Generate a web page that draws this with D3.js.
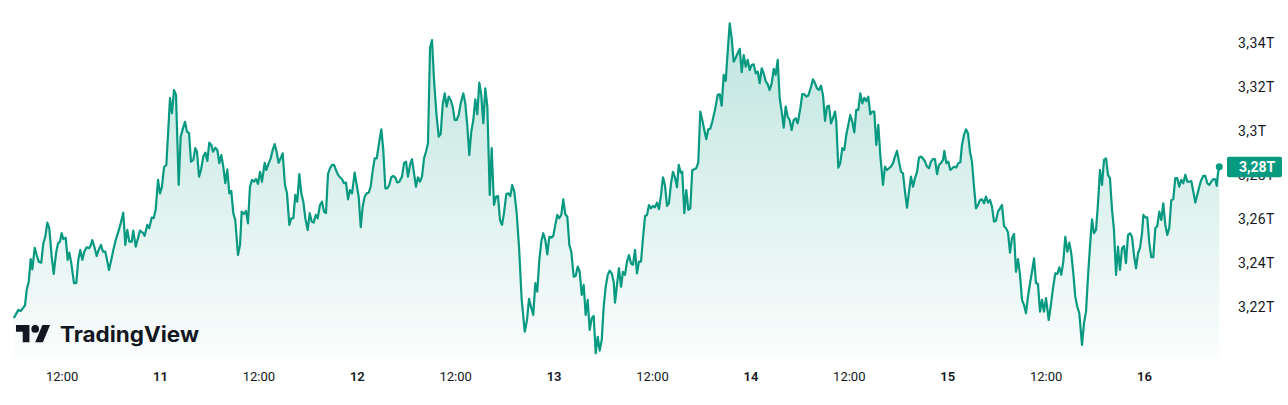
<!DOCTYPE html>
<html><head><meta charset="utf-8">
<script src="https://cdn.jsdelivr.net/npm/d3@7"></script>
<style>
html,body{margin:0;padding:0;background:#fff;overflow:hidden;}
svg{display:block;}
text{font-family:Roboto,"Noto Sans",sans-serif;}
</style></head><body>
<svg id="chart" width="1288" height="405"></svg>
<script>
// Day "10" 00:00 (UTC) is the origin of the hour offsets below
const startDay = Date.UTC(2025, 2, 10);
const hours = [
6.23,6.72,7.01,7.26,7.54,7.74,7.99,8.23,8.43,8.72,
8.96,9.21,9.52,9.77,10.01,10.26,10.50,10.79,11.04,11.32,
11.56,11.80,12.01,12.21,12.50,12.74,12.94,13.18,13.51,13.79,
14.04,14.28,14.52,14.77,15.06,15.34,15.55,15.74,15.99,16.28,
16.52,16.80,17.05,17.33,17.54,17.78,18.06,18.31,18.60,18.92,
19.21,19.52,19.77,20.01,20.26,20.55,20.74,21.04,21.28,21.56,
21.89,22.13,22.45,22.69,22.99,23.23,23.48,23.76,24.00,24.24,
24.49,24.77,25.01,25.22,25.46,25.71,25.95,26.28,26.52,26.80,
27.05,27.29,27.54,27.78,28.06,28.30,28.51,28.76,29.00,29.28,
29.53,29.77,30.01,30.26,30.46,30.74,30.99,31.23,31.48,31.72,
31.96,32.21,32.45,32.69,32.94,33.18,33.51,33.76,33.96,34.24,
34.49,34.73,34.97,35.22,35.46,35.71,35.95,36.20,36.44,36.77,
36.96,37.26,37.50,37.74,37.99,38.23,38.47,38.72,38.96,39.24,
39.49,39.77,40.01,40.26,40.50,40.74,40.99,41.23,41.48,41.72,
42.01,42.26,42.50,42.74,42.99,43.23,43.51,43.76,44.00,44.24,
44.49,44.73,44.98,45.22,45.46,45.71,45.95,46.20,46.44,46.68,
46.93,47.17,47.42,47.74,47.99,48.23,48.48,48.72,48.96,49.21,
49.45,49.69,49.94,50.18,50.43,50.74,50.99,51.23,51.48,51.72,
51.96,52.21,52.45,52.70,52.94,53.18,53.51,53.76,54.00,54.24,
54.49,54.73,54.98,55.22,55.46,55.71,55.95,56.20,56.44,56.68,
56.93,57.17,57.42,57.74,57.99,58.23,58.47,58.72,58.96,59.21,
59.45,59.69,59.94,60.18,60.43,60.67,60.99,61.23,61.47,61.72,
61.96,62.21,62.45,62.69,62.94,63.18,63.43,63.67,63.92,64.21,
64.45,64.73,64.98,65.22,65.46,65.71,65.95,66.23,66.48,66.72,
66.96,67.21,67.50,67.78,68.11,68.48,68.76,69.00,69.24,69.52,
69.77,70.01,70.26,70.50,70.74,70.99,71.23,71.48,71.72,71.96,
72.21,72.45,72.69,72.94,73.18,73.43,73.67,73.92,74.16,74.45,
74.69,74.94,75.18,75.43,75.67,75.91,76.16,76.40,76.65,76.89,
77.13,77.38,77.62,77.87,78.11,78.35,78.60,78.84,79.08,79.33,
79.49,79.73,79.97,80.22,80.46,80.71,80.95,81.19,81.44,81.68,
81.93,82.17,82.41,82.66,82.90,83.15,83.39,83.63,83.88,84.12,
84.36,84.61,84.85,85.10,85.34,85.58,85.83,86.07,86.32,86.56,
86.80,87.05,87.26,87.50,87.69,87.94,88.18,88.43,88.67,88.91,
89.16,89.40,89.64,89.89,90.13,90.38,90.62,90.86,91.11,91.35,
91.68,92.01,92.26,92.50,92.74,92.99,93.23,93.48,93.72,93.96,
94.21,94.45,94.70,94.94,95.18,95.43,95.67,95.91,96.16,96.40,
96.65,96.89,97.13,97.38,97.62,97.86,98.11,98.35,98.60,98.84,
99.08,99.33,99.57,99.82,100.06,100.30,100.55,100.79,101.03,101.28,
101.52,101.77,102.09,102.33,102.57,102.82,103.06,103.39,103.63,103.88,
104.12,104.36,104.61,104.85,105.10,105.34,105.58,105.83,106.07,106.32,
106.47,106.72,106.96,107.21,107.45,107.69,107.94,108.18,108.43,108.67,
108.91,109.16,109.40,109.65,109.89,110.13,110.38,110.62,110.86,111.11,
111.35,111.60,111.84,112.17,112.41,112.66,112.90,113.14,113.39,113.63,
113.88,114.12,114.36,114.61,114.85,115.10,115.34,115.58,115.83,116.07,
116.32,116.56,116.80,117.05,117.29,117.54,117.78,118.02,118.27,118.51,
118.76,119.00,119.24,119.49,119.65,119.89,120.13,120.38,120.62,120.86,
121.11,121.35,121.60,121.80,122.05,122.29,122.53,122.78,123.02,123.27,
123.51,123.76,124.00,124.24,124.49,124.73,124.98,125.22,125.46,125.71,
125.95,126.19,126.44,126.68,126.93,127.17,127.42,127.66,127.90,128.15,
128.39,128.63,128.88,129.12,129.37,129.61,129.85,130.10,130.34,130.59,
130.83,131.07,131.32,131.56,131.80,132.05,132.38,132.62,132.87,133.18,
133.43,133.67,133.91,134.16,134.40,134.65,134.89,135.13,135.38,135.62,
135.86,136.11,136.44,136.68,136.93,137.17,137.41,137.66,137.90,138.15,
138.39,138.63,138.88,139.12,139.37,139.61,139.85,140.10,140.34,140.59,
140.83,141.07,141.32,141.56,141.80,142.05,142.29,142.54,142.78,143.03,
143.27,143.51,143.76,143.92,144.16,144.40,144.65,144.89,145.13,145.38,
145.62,145.87,146.11,146.35,146.60,146.84,147.08,147.33,147.57,147.82,
148.06,148.30,148.55,148.79,149.04,149.28,149.52,149.77,150.01,150.26,
150.50,150.74,150.99,151.23,151.48,151.72,151.96,152.21,152.45,152.70,
152.87,153.02,153.18
];
const values = [
3.2153,3.2187,3.2182,3.2194,3.2208,3.2277,3.2315,3.2417,3.2371,3.2469,
3.2436,3.2406,3.2401,3.2489,3.2519,3.2583,3.2558,3.2429,3.2350,3.2444,
3.2489,3.2497,3.2535,3.2508,3.2515,3.2414,3.2447,3.2399,3.2308,3.2308,
3.2414,3.2459,3.2414,3.2451,3.2471,3.2467,3.2479,3.2504,3.2474,3.2432,
3.2459,3.2482,3.2451,3.2451,3.2414,3.2368,3.2414,3.2459,3.2504,3.2542,
3.2580,3.2628,3.2482,3.2550,3.2497,3.2497,3.2547,3.2474,3.2508,3.2547,
3.2538,3.2523,3.2573,3.2558,3.2606,3.2603,3.2644,3.2777,3.2716,3.2746,
3.2834,3.2845,3.3004,3.3148,3.3080,3.3185,3.3163,3.2754,3.2973,3.3012,
3.3041,3.2996,3.2989,3.2860,3.2868,3.2921,3.2905,3.2792,3.2822,3.2883,
3.2901,3.2863,3.2946,3.2936,3.2905,3.2923,3.2913,3.2853,3.2890,3.2837,
3.2762,3.2825,3.2716,3.2727,3.2626,3.2595,3.2436,3.2482,3.2633,3.2622,
3.2636,3.2580,3.2746,3.2777,3.2769,3.2781,3.2759,3.2814,3.2769,3.2855,
3.2822,3.2853,3.2875,3.2913,3.2940,3.2901,3.2855,3.2875,3.2898,3.2754,
3.2716,3.2573,3.2603,3.2603,3.2709,3.2678,3.2803,3.2716,3.2678,3.2603,
3.2550,3.2626,3.2588,3.2583,3.2618,3.2603,3.2663,3.2678,3.2633,3.2626,
3.2804,3.2830,3.2845,3.2845,3.2822,3.2800,3.2789,3.2780,3.2762,3.2765,
3.2689,3.2731,3.2716,3.2810,3.2754,3.2701,3.2562,3.2656,3.2701,3.2716,
3.2719,3.2746,3.2819,3.2875,3.2875,3.2951,3.3007,3.2913,3.2739,3.2739,
3.2754,3.2789,3.2795,3.2787,3.2765,3.2769,3.2792,3.2853,3.2860,3.2792,
3.2845,3.2871,3.2807,3.2746,3.2789,3.2769,3.2792,3.2875,3.2905,3.2943,
3.3375,3.3412,3.3231,3.3064,3.2973,3.2986,3.3117,3.3170,3.3110,3.3155,
3.3140,3.3110,3.3049,3.3049,3.3072,3.3125,3.3170,3.3125,3.3027,3.2890,
3.2996,3.3049,3.3143,3.3076,3.3219,3.3163,3.3034,3.3193,3.3110,3.2709,
3.2921,3.2663,3.2701,3.2704,3.2595,3.2573,3.2626,3.2713,3.2716,3.2704,
3.2754,3.2724,3.2626,3.2474,3.2232,3.2088,3.2141,3.2237,3.2202,3.2164,
3.2308,3.2270,3.2414,3.2497,3.2535,3.2504,3.2439,3.2519,3.2515,3.2523,
3.2573,3.2618,3.2603,3.2618,3.2689,3.2621,3.2610,3.2482,3.2451,3.2338,
3.2341,3.2383,3.2360,3.2255,3.2300,3.2164,3.2232,3.2096,3.2149,3.2159,
3.1990,3.2065,3.2002,3.2050,3.2202,3.2292,3.2346,3.2365,3.2353,3.2315,
3.2220,3.2300,3.2376,3.2292,3.2360,3.2346,3.2406,3.2436,3.2398,3.2391,
3.2459,3.2353,3.2406,3.2406,3.2512,3.2613,3.2618,3.2663,3.2648,3.2659,
3.2653,3.2674,3.2644,3.2709,3.2789,3.2754,3.2659,3.2671,3.2762,3.2814,
3.2789,3.2744,3.2845,3.2810,3.2814,3.2626,3.2731,3.2641,3.2648,3.2822,
3.2825,3.2830,3.2855,3.3087,3.3049,3.3004,3.2962,3.3007,3.3010,3.3041,
3.3095,3.3163,3.3166,3.3114,3.3254,3.3226,3.3359,3.3488,3.3420,3.3314,
3.3332,3.3352,3.3372,3.3266,3.3344,3.3291,3.3322,3.3276,3.3299,3.3302,
3.3261,3.3269,3.3216,3.3284,3.3261,3.3226,3.3211,3.3185,3.3216,3.3281,
3.3254,3.3322,3.3148,3.3087,3.3014,3.3110,3.3064,3.3049,3.3004,3.3049,
3.3057,3.3034,3.3102,3.3167,3.3166,3.3155,3.3160,3.3200,3.3234,3.3216,
3.3193,3.3185,3.3205,3.3163,3.3045,3.3110,3.3114,3.3034,3.3057,3.3087,
3.3045,3.2833,3.2853,3.2921,3.2913,3.2981,3.3027,3.3072,3.3041,3.2993,
3.3095,3.3095,3.3170,3.3125,3.3150,3.3135,3.3155,3.3075,3.3087,3.3087,
3.2936,3.3027,3.2890,3.2754,3.2837,3.2822,3.2830,3.2837,3.2853,3.2883,
3.2909,3.2860,3.2815,3.2807,3.2724,3.2651,3.2724,3.2792,3.2746,3.2785,
3.2812,3.2878,3.2883,3.2875,3.2860,3.2837,3.2830,3.2860,3.2872,3.2872,
3.2803,3.2845,3.2853,3.2868,3.2909,3.2853,3.2860,3.2822,3.2830,3.2837,
3.2833,3.2853,3.2857,3.2936,3.2981,3.3007,3.2989,3.2905,3.2860,3.2746,
3.2648,3.2663,3.2686,3.2689,3.2671,3.2701,3.2674,3.2686,3.2656,3.2588,
3.2592,3.2633,3.2648,3.2663,3.2568,3.2558,3.2538,3.2447,3.2512,3.2532,
3.2360,3.2417,3.2346,3.2232,3.2209,3.2172,3.2247,3.2308,3.2360,3.2421,
3.2308,3.2305,3.2179,3.2232,3.2179,3.2240,3.2141,3.2202,3.2277,3.2353,
3.2350,3.2380,3.2346,3.2406,3.2519,3.2451,3.2492,3.2444,3.2353,3.2247,
3.2202,3.2172,3.2028,3.2126,3.2179,3.2338,3.2474,3.2598,3.2535,3.2550,
3.2671,3.2822,3.2754,3.2868,3.2875,3.2800,3.2785,3.2641,3.2550,3.2346,
3.2474,3.2368,3.2467,3.2477,3.2399,3.2527,3.2535,3.2519,3.2436,3.2376,
3.2444,3.2467,3.2535,3.2618,3.2607,3.2607,3.2489,3.2426,3.2426,3.2558,
3.2568,3.2633,3.2595,3.2671,3.2573,3.2527,3.2558,3.2686,3.2689,3.2785,
3.2785,3.2746,3.2777,3.2762,3.2800,3.2769,3.2769,3.2772,3.2724,3.2674,
3.2709,3.2746,3.2777,3.2795,3.2795,3.2762,3.2754,3.2769,3.2781,3.2780,
3.2750,3.2807,3.2837
];
const yTicks = [3.22, 3.24, 3.26, 3.28, 3.30, 3.32, 3.34];
const xTickHours = [12, 24, 36, 48, 60, 72, 84, 96, 108, 120, 132, 144];

const HOUR = 3600e3;
const toDate = h => new Date(startDay + h * HOUR);
const n = Math.min(hours.length, values.length);
const data = d3.range(n).map(i => ({t: toDate(hours[i]), v: values[i]}));

const svg = d3.select("#chart");
const x = d3.scaleUtc()
  .domain([toDate(24), toDate(144)])
  .range([160, 1144]);
const y = d3.scaleLinear()
  .domain([3.22, 3.34])
  .range([307, 42.7]);
const paneBottom = 357;

// gradient
const defs = svg.append("defs");
const grad = defs.append("linearGradient")
  .attr("id", "fillGrad").attr("gradientUnits", "userSpaceOnUse")
  .attr("x1", 0).attr("x2", 0).attr("y1", 22).attr("y2", paneBottom);
grad.append("stop").attr("offset", 0).attr("stop-color", "#089981").attr("stop-opacity", 0.26);
grad.append("stop").attr("offset", 1).attr("stop-color", "#089981").attr("stop-opacity", 0.02);

const area = d3.area().x(d => x(d.t)).y0(paneBottom).y1(d => y(d.v));
const line = d3.line().x(d => x(d.t)).y(d => y(d.v));

svg.append("path").datum(data).attr("d", area).attr("fill", "url(#fillGrad)");
svg.append("path").datum(data).attr("d", line)
  .attr("fill", "none").attr("stroke", "#089981").attr("stroke-width", 2.2)
  .attr("stroke-linejoin", "round").attr("stroke-linecap", "round");

const last = data[data.length - 1];
svg.append("circle").attr("cx", x(last.t)).attr("cy", y(last.v)).attr("r", 3.5).attr("fill", "#089981");

// logo
const logo = svg.append("g").attr("transform", "translate(16,321.2) scale(0.96)").attr("fill", "#131722");
logo.append("path").attr("d", "M14 22H7V11H0V4h14v18zM28 22h-8l7.5-18h8L28 22z");
logo.append("circle").attr("cx", 20).attr("cy", 8).attr("r", 4);
svg.append("text").attr("x", 60).attr("y", 342).attr("font-size", 21).attr("font-weight", 700)
  .attr("fill", "#131722").attr("textLength", 139).attr("lengthAdjust", "spacingAndGlyphs")
  .style("font-family", "Inter, Roboto, sans-serif")
  .text("TradingView");

// y axis (the 3,28T label sits partly behind the last-price tag, as in the reference)
const fmtY = v => d3.format(".2~f")(v).replace(".", ",") + "T";
const yAxis = d3.axisRight(y).tickValues(yTicks).tickFormat(fmtY).tickSize(0).tickPadding(8);
const gy = svg.append("g").attr("transform", "translate(1230,0)").call(yAxis);
gy.select(".domain").remove();
gy.selectAll("text").attr("fill", "#131722").attr("font-size", 14)
  .attr("letter-spacing", 0.4)
  .style("font-family", "Roboto, sans-serif");

// x axis
const xAxis = d3.axisBottom(x)
  .tickValues(xTickHours.map(toDate))
  .tickFormat(d => d.getUTCHours() === 0 ? String(d.getUTCDate()) : d3.utcFormat("%H:%M")(d))
  .tickSize(0).tickPadding(0);
const gx = svg.append("g").attr("transform", "translate(0,369)").call(xAxis);
gx.select(".domain").remove();
gx.selectAll("text").attr("fill", "#131722").attr("font-size", 13)
  .attr("dy", "0.9em")
  .style("font-family", "Roboto, sans-serif")
  .attr("font-weight", d => d.getUTCHours() === 0 ? 600 : 400);

// last price label
const ly = y(last.v);
svg.append("rect").attr("x", 1227).attr("y", ly - 10).attr("width", 55).attr("height", 20.5)
  .attr("rx", 2).attr("fill", "#089981");
svg.append("text").attr("x", 1239).attr("y", ly).attr("dy", "0.36em")
  .attr("font-size", 14).attr("font-weight", 700).attr("fill", "#fff")
  .style("font-family", "Roboto, sans-serif")
  .text(d3.format(".2f")(last.v).replace(".", ",") + "T");
</script>
</body></html>
